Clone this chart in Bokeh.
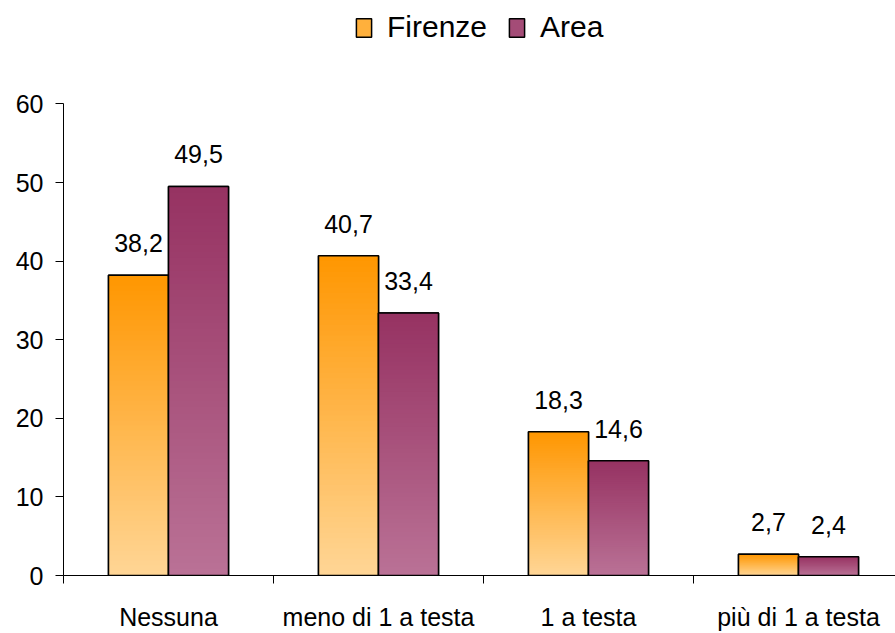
from bokeh.plotting import figure
from bokeh.models import (ColumnDataSource, FixedTicker, Legend, LegendItem,
                          Range1d)
from bokeh.core.properties import value
from bokeh.embed import file_html
from bokeh.resources import INLINE

# ---- data ----
categories = ["Nessuna", "meno di 1 a testa", "1 a testa", "più di 1 a testa"]
series = ["Firenze", "Area"]
firenze = [38.2, 40.7, 18.3, 2.7]
area = [49.5, 33.4, 14.6, 2.4]
y_ticks = [0, 10, 20, 30, 40, 50, 60]

series_values = {"Firenze": firenze, "Area": area}

# ---- styles ----
FONT = "Liberation Sans"
top_rgb = {"Firenze": (255, 150, 0), "Area": (150, 50, 98)}
bottom_rgb = {"Firenze": (255, 214, 150), "Area": (186, 114, 150)}
BAR_W = 60 / 210
N_SLICES = 60


def mix(c0, c1, t):
    return "#%02x%02x%02x" % tuple(int(round(a + (b - a) * t)) for a, b in zip(c0, c1))


W, H = 895, 633
LEFT, BOTTOM = 63, 55
frame_w = W - LEFT
frame_h = H - BOTTOM            # frame reaches the top of the figure
px_per_unit = 474 / 60          # 0..60 spans 474 px
y_top = frame_h / px_per_unit

p = figure(width=W, height=H, output_backend="svg", toolbar_location=None,
           x_range=Range1d(-0.5, -0.5 + frame_w / 210), y_range=Range1d(0, y_top),
           min_border_left=LEFT, min_border_right=0, min_border_top=0,
           min_border_bottom=BOTTOM)
p.outline_line_color = None
p.xgrid.grid_line_color = None
p.ygrid.grid_line_color = None
p.background_fill_color = "white"
p.border_fill_color = "white"

legend_items = []
lab_x, lab_y, lab_t = [], [], []
for s_idx, name in enumerate(series):
    vals = series_values[name]
    offset = -BAR_W if s_idx == 0 else 0.0
    bars = ColumnDataSource(dict(left=[i + offset for i in range(len(vals))],
                                 right=[i + offset + BAR_W for i in range(len(vals))],
                                 bottom=[0] * len(vals), top=vals))
    # base bar (also used as legend swatch), covered by the gradient slices
    base = p.quad(left="left", right="right", bottom="bottom", top="top", source=bars,
                  fill_color=mix(bottom_rgb[name], top_rgb[name], 0.6),
                  line_color="black", line_width=1.5)
    L, R, B, T, C = [], [], [], [], []
    for i, v in enumerate(vals):
        left = i + offset
        for j in range(N_SLICES):
            L.append(left)
            R.append(left + BAR_W)
            B.append(v * j / N_SLICES)
            T.append(v)
            C.append(mix(bottom_rgb[name], top_rgb[name], (j + 0.5) / N_SLICES))
        lab_x.append(left + BAR_W / 2)
        lab_y.append(v)
        lab_t.append(f"{v:.1f}".replace(".", ","))
    src = ColumnDataSource(dict(left=L, right=R, bottom=B, top=T, color=C))
    p.quad(left="left", right="right", bottom="bottom", top="top", source=src,
           fill_color="color", line_color=None)
    p.quad(left="left", right="right", bottom="bottom", top="top", source=bars,
           fill_color=None, line_color="black", line_width=1.5)
    legend_items.append(LegendItem(label=name, renderers=[base]))

labels = ColumnDataSource(dict(x=lab_x, y=lab_y, t=lab_t))
p.text(x="x", y="y", text="t", source=labels, text_align="center",
       text_baseline="bottom", y_offset=-23, text_font=value(FONT),
       text_font_size="25px", text_color="black")

# y axis
p.yaxis.ticker = FixedTicker(ticks=y_ticks)
p.yaxis.bounds = (y_ticks[0], y_ticks[-1])
p.yaxis.major_tick_in = 0
p.yaxis.major_tick_out = 8
p.yaxis.minor_tick_line_color = None
p.yaxis.major_label_standoff = 12
p.yaxis.major_label_text_font = FONT
p.yaxis.major_label_text_font_size = "25px"
p.yaxis.major_label_text_color = "black"
p.yaxis.axis_line_color = "black"
p.yaxis.major_tick_line_color = "black"

# x axis
p.xaxis.ticker = FixedTicker(ticks=list(range(len(categories))),
                             minor_ticks=[i - 0.5 for i in range(len(categories) + 1)])
p.xaxis.major_label_overrides = {i: c for i, c in enumerate(categories)}
p.xaxis.major_tick_line_color = None
p.xaxis.major_tick_in = 0
p.xaxis.major_tick_out = 0
p.xaxis.minor_tick_in = 0
p.xaxis.minor_tick_out = 8
p.xaxis.minor_tick_line_color = "black"
p.xaxis.major_label_standoff = 19
p.xaxis.major_label_text_font = FONT
p.xaxis.major_label_text_font_size = "25px"
p.xaxis.major_label_text_color = "black"
p.xaxis.axis_line_color = "black"

legend = Legend(items=legend_items, location=(291, 531), orientation="horizontal",
                label_text_font=FONT, label_text_font_size="30px",
                label_text_color="black", glyph_width=19, glyph_height=23,
                label_standoff=14, spacing=20, padding=0, margin=0,
                border_line_color=None, background_fill_alpha=0)
p.add_layout(legend)

open("out.html", "w").write(file_html(p, INLINE))
